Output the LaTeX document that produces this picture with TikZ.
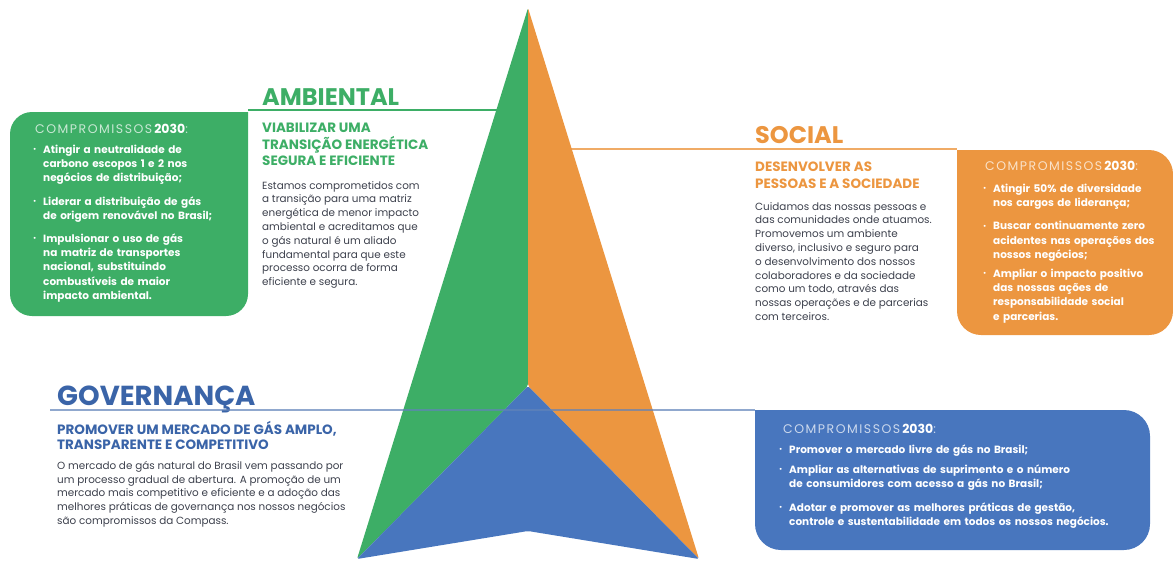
\documentclass[tikz,border=0pt]{standalone}
\usepackage{fontspec}
\setmainfont{Poppins}
\newfontfamily\lblfont{Poppins}[LetterSpace=12]
\usepackage{tikz}
\definecolor{ambgreen}{RGB}{61,174,102}
\definecolor{socorange}{RGB}{236,150,64}
\definecolor{govblue}{RGB}{72,118,190}
\definecolor{govhead}{RGB}{58,100,168}
\definecolor{txtgray}{RGB}{60,64,76}
\newcommand{\bul}[1]{\par\hangindent=10pt\hangafter=1\noindent\makebox[10pt][l]{\raisebox{1.8pt}{\fontsize{6.5}{6.5}\selectfont\textbullet}}#1\par\vspace{9pt}}
\newcommand{\cmp}[1]{\textcolor{#1}{\lblfont COMPROMISSOS}\hspace{2pt}\textcolor{white}{\textbf{2030}}\textcolor{#1}{:}}

\begin{document}
\begin{tikzpicture}[x=1pt,y=-1pt,
    head/.style={anchor=base west, inner sep=0pt, font=\fontsize{24}{24}\selectfont\bfseries},
    sub/.style={anchor=north west, inner sep=0pt, align=left, font=\fontsize{13.5}{16.5}\selectfont\bfseries},
    body/.style={anchor=north west, inner sep=0pt, align=left, text=txtgray, font=\fontsize{10.4}{13.8}\selectfont},
    lbl/.style={anchor=base west, inner sep=0pt, font=\fontsize{12.5}{12.5}\selectfont},
    blist/.style={anchor=north west, inner sep=0pt, align=left, text=white, font=\fontsize{10.5}{14.2}\selectfont\bfseries},
    rule/.style={line width=1.2pt}]
        \useasboundingbox (0,0) rectangle (1173,562);

        % Ambiental (green box and heading)
        \fill[ambgreen] (130,112) -- (248,112) -- (248,200) [rounded corners=22pt] -- (248,316) -- (10,316) -- (10,112) -- cycle;
        \node[lbl] (amblbl) at (35,133) {\cmp{white!72!ambgreen}};
        \node[blist, text width=210pt] (amblist) at (33,139) {%
            \bul{Atingir a neutralidade de\newline carbono escopos 1 e 2 nos\newline negócios de distribuição;}%
            \bul{Liderar a distribuição de gás\newline de origem renovável no Brasil;}%
            \bul{Impulsionar o uso de gás\newline na matriz de transportes\newline nacional, substituindo\newline combustíveis de maior\newline impacto ambiental.}};
        \node[head, text=ambgreen] (amb) at (262,105) {AMBIENTAL};
        \node[sub, text=ambgreen] (ambsub) at (262,123) {VIABILIZAR UMA\\TRANSIÇÃO ENERGÉTICA\\SEGURA E EFICIENTE};
        \node[body] (ambtxt) at (262,181) {Estamos comprometidos com\\a transição para uma matriz\\energética de menor impacto\\ambiental e acreditamos que\\o gás natural é um aliado\\fundamental para que este\\processo ocorra de forma\\eficiente e segura.};
        \coordinate (ambl) at (248,110);
        \coordinate (ambr) at (499,110);
        \draw[rule, ambgreen] (ambl) -- (ambr);

        % Social (orange box and heading)
        \fill[socorange] (1060,150) -- (957,150) -- (957,250) [rounded corners=24pt] -- (957,335) -- (1173,335) -- (1173,150) -- cycle;
        \node[lbl] (soclbl) at (985,170) {\cmp{white!72!socorange}};
        \node[blist, text width=185pt] (soclist) at (983,178) {%
            \bul{Atingir 50\% de diversidade\newline nos cargos de liderança;}%
            \bul{Buscar continuamente zero\newline acidentes nas operações dos\newline nossos negócios;}%
            \vspace{-4pt}\bul{Ampliar o impacto positivo\newline das nossas ações de\newline responsabilidade social\newline e parcerias.}};
        \node[head, text=socorange] (soc) at (755,143) {SOCIAL};
        \node[sub, text=socorange] (socsub) at (755,162) {DESENVOLVER AS\\PESSOAS E A SOCIEDADE};
        \node[body] (soctxt) at (755,202) {Cuidamos das nossas pessoas e\\das comunidades onde atuamos.\\Promovemos um ambiente\\diverso, inclusivo e seguro para\\o desenvolvimento dos nossos\\colaboradores e da sociedade\\como um todo, através das\\nossas operações e de parcerias\\com terceiros.};
        \coordinate (socl) at (571,149);
        \coordinate (socr) at (957,149);
        \draw[rule, socorange!80] (socl) -- (socr);

        % Triangle (three parts)
        \coordinate (apex) at (528,8);
        \coordinate (tipl) at (357,559);
        \coordinate (tipr) at (699,559);
        \coordinate (mid) at (528,386);
        \coordinate (notch) at (528,531);
        \fill[ambgreen, rounded corners=2pt] (apex) -- (mid) -- (tipl) -- cycle;
        \fill[socorange, rounded corners=2pt] (apex) -- (tipr) -- (mid) -- cycle;
        \fill[govblue, rounded corners=2pt] (mid) -- (tipr) -- (notch) -- (tipl) -- cycle;

        % Governanca (blue box and heading)
        \fill[govblue] (950,410) -- (755,410) -- (755,480) [rounded corners=26pt] -- (755,550) -- (1150,550) -- (1150,410) -- cycle;
        \node[lbl] (govlbl) at (783,433) {\cmp{white!72!govblue}};
        \node[blist, text width=370pt] (govlist) at (779,439) {%
            \bul{Promover o mercado livre de gás no Brasil;}%
            \vspace{-3pt}\bul{Ampliar as alternativas de suprimento e o número\newline de consumidores com acesso a gás no Brasil;}%
            \bul{Adotar e promover as melhores práticas de gestão,\newline controle e sustentabilidade em todos os nossos negócios.}};
        \node[head, text=govhead, font=\fontsize{27.5}{27.5}\selectfont\bfseries] (gov) at (57,405) {GOVERNANÇA};
        \node[sub, text=govhead, font=\fontsize{13.5}{15.5}\selectfont\bfseries] (govsub) at (57,421) {PROMOVER UM MERCADO DE GÁS AMPLO,\\TRANSPARENTE E COMPETITIVO};
        \node[body] (govtxt) at (57,461) {O mercado de gás natural do Brasil vem passando por\\um processo gradual de abertura. A promoção de um\\mercado mais competitivo e eficiente e a adoção das\\melhores práticas de governança nos nossos negócios\\são compromissos da Compass.};
        \coordinate (govl) at (50,410);
        \coordinate (govr) at (755,410);
        \draw[rule, govhead!80, opacity=0.7] (govl) -- (govr);
\end{tikzpicture}
\end{document}
